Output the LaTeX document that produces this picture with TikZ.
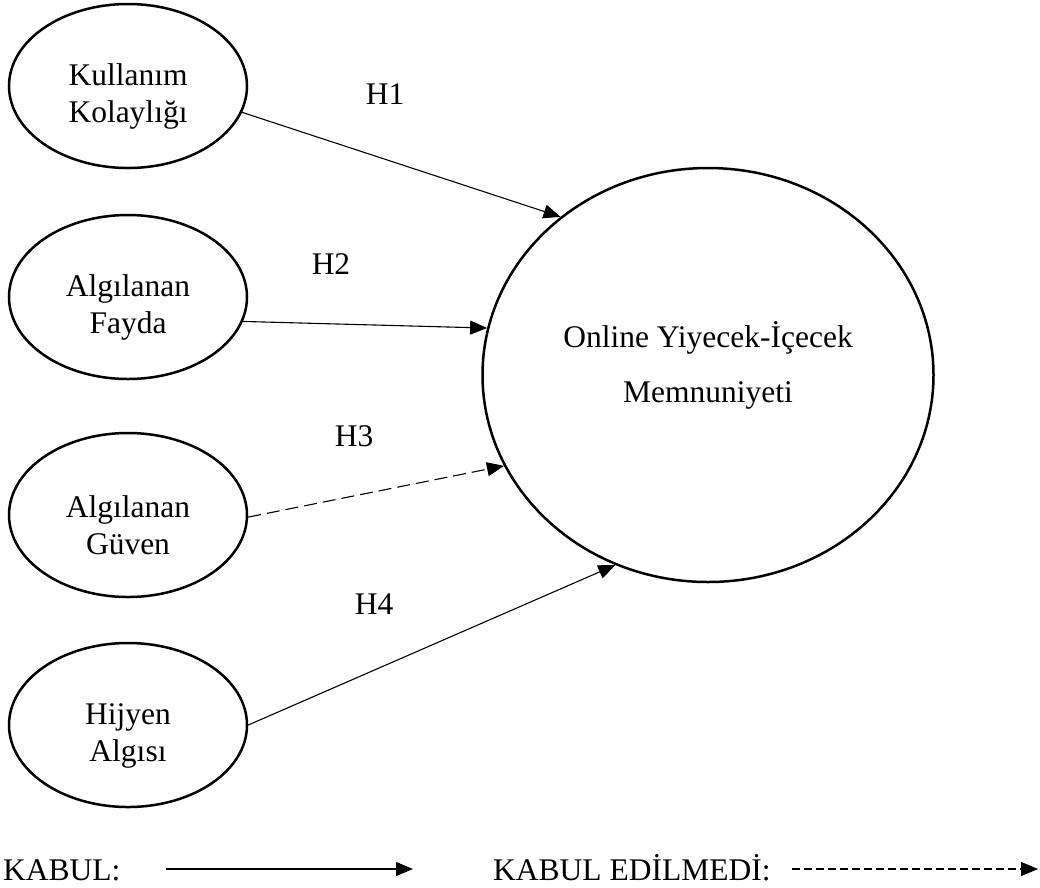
\documentclass[tikz,border=0pt]{standalone}
\usepackage{fontspec}
\setmainfont{Liberation Serif}
\usetikzlibrary{shapes.geometric,arrows.meta}
\newcommand{\topstrut}{\rule{0pt}{42pt}}
\begin{document}
\begin{tikzpicture}[x=1pt,y=-1pt,
  every node/.style={font=\fontsize{31.5}{37}\selectfont},
  small/.style={ellipse,draw,line width=2.5pt,minimum width=238pt,minimum height=164pt,inner sep=0pt,align=center},
  big/.style={ellipse,draw,line width=2.5pt,minimum width=451pt,minimum height=414pt,inner sep=0pt,align=center},
  arr/.style={line width=1.1pt,-{Triangle[length=17pt,width=14pt]}},
  darr/.style={arr,dash pattern=on 13pt off 6pt},
  larr/.style={arr,dash pattern=on 8pt off 4pt},
  hlab/.style={inner sep=0pt}]
\useasboundingbox (0,0) rectangle (1040,887);
\node[small] (k) at (128,86) {\topstrut Kullanım\\Kolaylığı};
\node[small] (f) at (128,297) {\topstrut Algılanan\\Fayda};
\node[small] (g) at (128,515) {\topstrut Algılanan\\Güven};
\node[small] (h) at (128,725) {\topstrut Hijyen\\Algısı};
\node[big] (m) at (708,375) {Online Yiyecek-İçecek\\[18pt]Memnuniyeti\rule[-27pt]{0pt}{27pt}};
\node[hlab] (h1) at (385,94) {H1};
\node[hlab] (h2) at (331,264) {H2};
\node[hlab] (h3) at (354,436) {H3};
\node[hlab] (h4) at (374,604) {H4};
\draw[arr] (k.-13) -- (m.133.7);
\draw[arr] (f.-12) -- (m.168.4);
\draw[darr] (g.-1) -- (m.204);
\draw[arr] (h.0) -- (m.244.3);
\node[anchor=base west,inner sep=0pt] (kb) at (3,880) {KABUL:};
\node[anchor=base west,inner sep=0pt] (ke) at (493,880) {KABUL EDİLMEDİ:};
\coordinate (l1s) at (166,869);
\coordinate (l1e) at (413,869);
\coordinate (l2s) at (792,869);
\coordinate (l2e) at (1038,869);
\draw[arr] (l1s) -- (l1e);
\draw[larr] (l2s) -- (l2e);
\end{tikzpicture}
\end{document}
